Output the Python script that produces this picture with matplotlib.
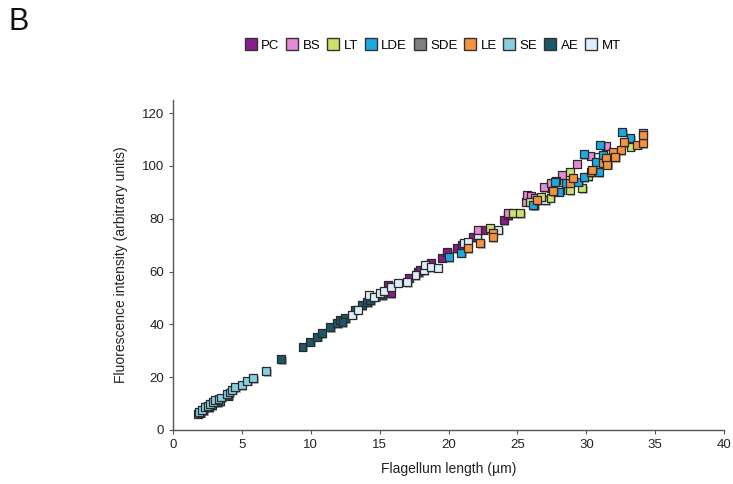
import matplotlib
matplotlib.use("Agg")
import matplotlib.pyplot as plt
import matplotlib.patheffects as pe
from matplotlib.lines import Line2D

plt.rcParams['font.family'] = ['Liberation Sans', 'DejaVu Sans']

series_names = ["PC", "BS", "LT", "LDE", "SDE", "LE", "SE", "AE", "MT"]
colors = {"PC": "#8b1a8b", "BS": "#e48ad6", "LT": "#c9e26c", "LDE": "#1ba9e2",
          "SDE": "#808080", "LE": "#f5923e", "SE": "#88cfe0", "AE": "#1d5868",
          "MT": "#ddeef8"}

SDE_x = [1.8, 2.2, 2.8, 3.4]
SDE_y = [6.2, 7.4, 9.3, 11.0]

AE_x = [2.0, 2.6, 3.2, 4.0, 7.85, 9.4, 9.95, 10.45, 10.8, 11.4, 11.9, 12.1, 12.5,
        12.3, 13.2, 13.7, 14.1, 14.3, 14.7, 15.2]
AE_y = [6.5, 8.5, 10.5, 13.0, 26.9, 31.5, 33.4, 35.3, 36.7, 39.0, 40.5, 41.7, 42.4,
        40.8, 45.5, 47.3, 48.5, 49.2, 50.4, 51.0]

PC_x = [15.6, 15.8, 17.1, 17.8, 17.9, 18.5, 18.7, 19.5, 19.9, 20.6, 21.0, 21.8,
        22.5, 24.0, 24.3]
PC_y = [54.9, 51.9, 57.6, 59.8, 60.6, 62.5, 63.3, 65.2, 67.4, 68.9, 70.0, 73.1,
        75.8, 79.5, 81.4]

MT_x = [13.0, 13.4, 14.2, 14.6, 15.0, 15.3, 15.8, 16.3, 17.0, 17.6, 18.2, 18.3,
        18.7, 19.2, 21.1, 21.4, 22.1, 23.6, 27.0, 27.4, 28.1, 30.8]
MT_y = [43.6, 45.5, 51.0, 50.4, 51.9, 52.5, 54.2, 55.7, 56.0, 58.7, 60.6, 62.5,
        61.7, 61.4, 70.8, 71.2, 73.9, 75.8, 87.1, 91.7, 90.9, 103.4]

BS_x = [22.1, 24.3, 25.6, 25.7, 26.0, 26.9, 27.4, 28.2, 29.3, 30.3, 31.4, 34.1,
        26.3, 27.8]
BS_y = [75.8, 82.2, 86.4, 89.0, 88.5, 92.0, 93.6, 96.6, 100.8, 103.8, 107.6, 112.5,
        88.0, 94.5]

LT_x = [23.0, 24.7, 25.2, 25.9, 26.7, 27.4, 28.8, 28.8, 29.7, 33.2, 26.2, 30.1, 31.5]
LT_y = [76.5, 82.2, 82.2, 86.4, 88.3, 87.9, 90.9, 97.7, 91.5, 107.2, 85.0, 96.0, 101.0]

LDE_x = [20.0, 20.9, 26.1, 27.7, 28.0, 28.5, 29.4, 29.8, 30.9, 31.0, 29.8, 32.6,
         33.2, 30.7, 31.2]
LDE_y = [65.5, 67.1, 85.2, 94.0, 90.2, 93.6, 94.0, 95.8, 97.7, 108.0, 104.5, 112.9,
         110.6, 101.5, 104.2]

LE_x = [21.4, 22.3, 23.2, 23.2, 26.4, 28.8, 29.0, 30.3, 30.4, 31.2, 31.9, 32.5,
        32.7, 33.7, 34.1, 32.1, 31.4, 31.5, 34.1, 27.6]
LE_y = [68.9, 70.8, 74.6, 73.1, 87.0, 93.6, 95.5, 97.7, 98.5, 101.0, 105.3, 106.0,
        109.0, 108.0, 108.7, 103.4, 103.0, 100.4, 111.7, 90.5]

SE_x = [1.9, 2.1, 2.3, 2.5, 2.7, 2.9, 3.05, 3.3, 3.5, 3.9, 4.1, 4.3, 4.5, 5.0,
        5.4, 5.8, 6.75]
SE_y = [6.8, 7.5, 8.7, 9.0, 9.8, 10.5, 11.4, 11.8, 12.3, 13.6, 14.2, 15.2, 16.3,
        17.0, 18.6, 19.7, 22.3]

draw_order = [("SDE", SDE_x, SDE_y), ("AE", AE_x, AE_y), ("PC", PC_x, PC_y),
              ("MT", MT_x, MT_y), ("BS", BS_x, BS_y), ("LT", LT_x, LT_y),
              ("LDE", LDE_x, LDE_y), ("LE", LE_x, LE_y), ("SE", SE_x, SE_y)]

x_ticks = [0, 5, 10, 15, 20, 25, 30, 35, 40]
y_ticks = [0, 20, 40, 60, 80, 100, 120]

fig = plt.figure(figsize=(7.33, 4.84), dpi=100)
ax = fig.add_axes([0.236, 0.1116, 0.752, 0.682])

shadow = [pe.SimplePatchShadow(offset=(1.2, -1.2), alpha=0.35), pe.Normal()]
for name, xs, ys in draw_order:
    sc = ax.scatter(xs, ys, marker='s', s=32, c=colors[name], edgecolors='#2a2a2a',
                    linewidths=0.9, zorder=3)
    sc.set_path_effects(shadow)

ax.set_xlim(0, 40)
ax.set_ylim(0, 125)
ax.set_xticks(x_ticks)
ax.set_yticks(y_ticks)
for s in ['top', 'right']:
    ax.spines[s].set_visible(False)
for s in ['left', 'bottom']:
    ax.spines[s].set_color('#555555')
    ax.spines[s].set_linewidth(1.0)
ax.tick_params(axis='both', direction='out', length=3, color='#555555',
               labelsize=9.5, labelcolor='#222222')
ax.set_xlabel("Flagellum length (µm)", fontsize=10, color='#222222', labelpad=8)
ax.set_ylabel("Fluorescence intensity (arbitrary units)", fontsize=10,
              color='#222222', labelpad=10)

handles = [Line2D([], [], marker='s', linestyle='none', markersize=9,
                  markerfacecolor=colors[n], markeredgecolor='#333333',
                  markeredgewidth=1.0, label=n) for n in series_names]
fig.legend(handles=handles, loc='center', bbox_to_anchor=(0.59, 0.905), ncol=9,
           frameon=False, fontsize=9.5, handletextpad=0.3, columnspacing=0.45,
           handlelength=1.0, borderaxespad=0)

fig.text(0.012, 0.955, "B", fontsize=22, color='#111111', va='center', ha='left')

fig.savefig("out.png", dpi=100)
